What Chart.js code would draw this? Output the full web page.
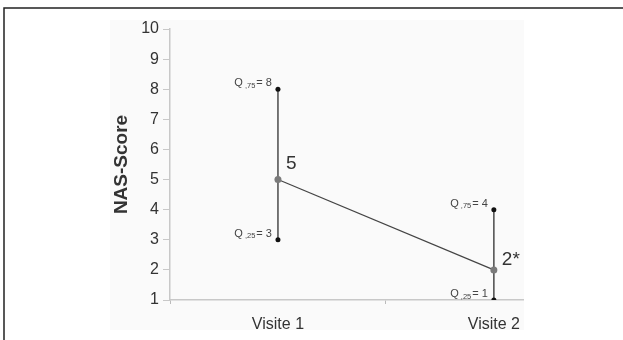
<!DOCTYPE html>
<html>
<head>
<meta charset="utf-8">
<script src="https://cdn.jsdelivr.net/npm/chart.js@4"></script>
<style>
  html, body { margin: 0; padding: 0; background: #fff; }
  #wrap { width: 623px; height: 340px; position: relative; }
</style>
</head>
<body>
<div id="wrap"><canvas id="nasChart" width="623" height="340"></canvas></div>
<script>
// data
const categories = ['Visite 1', 'Visite 2'];
const medians = [5, 2];
const q25 = [3, 1];
const q75 = [8, 4];
const medianLabels = ['5', '2*'];

const FONT = '"Liberation Sans", Arial, sans-serif';

// frame + light grey panel behind the plot
const backdrop = {
  id: 'backdrop',
  beforeDraw(chart) {
    const ctx = chart.ctx;
    ctx.save();
    ctx.fillStyle = '#fafafa';
    ctx.fillRect(110, 20, 414, 310);
    ctx.strokeStyle = '#222';
    ctx.lineWidth = 1.5;
    ctx.beginPath();
    ctx.moveTo(4, 340);
    ctx.lineTo(4, 8);
    ctx.lineTo(623, 8);
    ctx.stroke();
    ctx.restore();
  }
};

// quartile + median annotations
const annotations = {
  id: 'annotations',
  afterDatasetsDraw(chart) {
    const ctx = chart.ctx;
    const xs = chart.scales.x, ys = chart.scales.y;
    ctx.save();
    ctx.textBaseline = 'middle';
    ctx.textAlign = 'left';

    const quartile = (sub, val, px, py) => {
      const tail = '= ' + val;
      ctx.font = '11px ' + FONT;
      const wTail = ctx.measureText(tail).width;
      const wQ = ctx.measureText('Q').width;
      ctx.font = '7.5px ' + FONT;
      const wSub = ctx.measureText(sub).width;
      let x = px - 6 - wTail - wSub - wQ - 3;
      ctx.fillStyle = '#444';
      ctx.font = '11px ' + FONT;
      ctx.fillText('Q', x, py - 6);
      x += wQ + 2;
      ctx.font = '7.5px ' + FONT;
      ctx.fillText(sub, x, py - 3.5);
      x += wSub + 1;
      ctx.font = '11px ' + FONT;
      ctx.fillText(tail, x, py - 6);
    };

    const lift = [16, 10];
    categories.forEach((c, i) => {
      const px = xs.getPixelForValue(i + 1);
      quartile(',75', q75[i], px, ys.getPixelForValue(q75[i]));
      quartile(',25', q25[i], px, ys.getPixelForValue(q25[i]));
      ctx.font = '19px ' + FONT;
      ctx.fillStyle = '#333';
      ctx.fillText(medianLabels[i], px + 8, ys.getPixelForValue(medians[i]) - lift[i]);
    });
    ctx.restore();
  }
};

const datasets = categories.map((c, i) => ({
  label: c + ' IQR',
  data: [{ x: i + 1, y: q25[i] }, { x: i + 1, y: q75[i] }],
  showLine: true,
  borderColor: '#555',
  borderWidth: 1.6,
  pointRadius: 2.5,
  pointBackgroundColor: '#111',
  pointBorderWidth: 0,
  order: 2
}));
datasets.push({
  label: 'Median',
  data: categories.map((c, i) => ({ x: i + 1, y: medians[i] })),
  showLine: true,
  borderColor: '#444',
  borderWidth: 1.2,
  pointRadius: 3.5,
  pointBackgroundColor: '#7a7a7a',
  pointBorderWidth: 0,
  order: 1
});

new Chart(document.getElementById('nasChart'), {
  type: 'scatter',
  data: { datasets },
  options: {
    responsive: false,
    animation: false,
    layout: { padding: { left: 110, right: 100, top: 29, bottom: 0 } },
    plugins: { legend: { display: false }, tooltip: { enabled: false } },
    scales: {
      x: {
        type: 'linear',
        min: 0.5,
        max: 2.135,
        afterBuildTicks(scale) {
          scale.ticks = [0.5, 1, 1.5, 2].map(v => ({ value: v }));
        },
        ticks: {
          autoSkip: false,
          maxRotation: 0,
          color: '#333',
          font: { family: FONT, size: 16 },
          padding: 11,
          callback: v => Number.isInteger(v) ? categories[v - 1] : ''
        },
        grid: {
          drawOnChartArea: false,
          tickLength: 4,
          tickColor: ctx => Number.isInteger(ctx.tick && ctx.tick.value) ? 'rgba(0,0,0,0)' : '#bbb'
        },
        border: { color: '#c8c8c8', width: 1.5 },
        afterFit(scale) { scale.height = 40; }
      },
      y: {
        min: 1,
        max: 10,
        ticks: {
          stepSize: 1,
          color: '#333',
          font: { family: FONT, size: 16 },
          padding: 4
        },
        grid: { drawOnChartArea: false, tickLength: 7, tickColor: '#c8c8c8' },
        border: { color: '#c8c8c8', width: 1.5 },
        title: {
          display: true,
          text: 'NAS-Score',
          color: '#333',
          font: { family: FONT, size: 19, weight: 'bold' },
          padding: { top: 0, bottom: 4 }
        },
        afterFit(scale) { scale.width = 60; }
      }
    }
  },
  plugins: [backdrop, annotations]
});
</script>
</body>
</html>
